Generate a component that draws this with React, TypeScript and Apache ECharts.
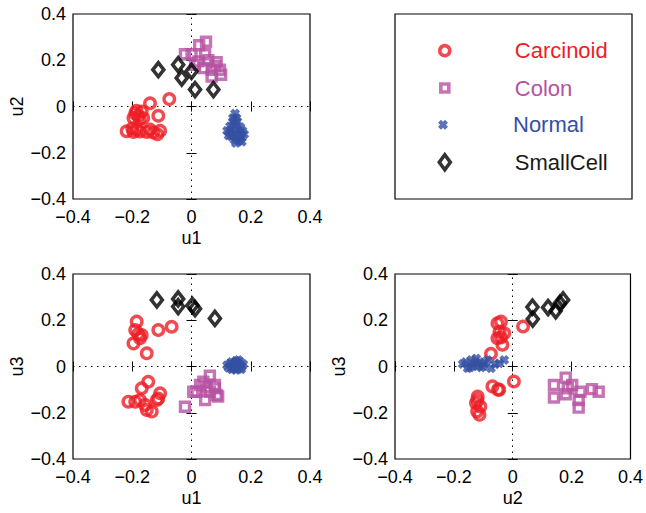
import React, { useEffect, useRef } from "react";
import * as echarts from "echarts";

// ---------- data ----------
const classNames = ["Carcinoid", "Colon", "Normal", "SmallCell"];
const tickValues = [-0.4, -0.2, 0, 0.2, 0.4];
const axisNamesX = ["u1", "u1", "u2"];
const axisNamesY = ["u2", "u3", "u3"];

// panel 1 : u1 (x) vs u2 (y)
const carcinoidU1U2 = [
  [-0.075, 0.032], [-0.14, 0.014], [-0.112, -0.04], [-0.19, -0.03], [-0.168, -0.022],
  [-0.196, -0.05], [-0.163, -0.05], [-0.18, -0.04], [-0.186, -0.018], [-0.175, -0.055],
  [-0.219, -0.107], [-0.196, -0.11], [-0.174, -0.108], [-0.151, -0.11], [-0.129, -0.112],
  [-0.106, -0.105], [-0.185, -0.1], [-0.14, -0.1], [-0.115, -0.12], [-0.2, -0.095],
];
const colonU1U2 = [
  [0.049, 0.28], [0.026, 0.265], [-0.022, 0.226], [0.0, 0.226], [0.046, 0.226],
  [0.023, 0.195], [0.057, 0.2], [0.085, 0.192], [0.096, 0.159], [0.068, 0.159],
  [0.04, 0.166], [0.1, 0.137], [0.068, 0.13], [0.012, 0.18], [0.08, 0.175],
];
const normalU1U2 = [
  [0.147, -0.03], [0.14, -0.05], [0.152, -0.05], [0.14, -0.065], [0.155, -0.065],
  [0.13, -0.085], [0.148, -0.08], [0.165, -0.09], [0.12, -0.105], [0.135, -0.1],
  [0.155, -0.1], [0.172, -0.105], [0.13, -0.115], [0.145, -0.115], [0.165, -0.12],
  [0.178, -0.12], [0.135, -0.13], [0.15, -0.13], [0.168, -0.135], [0.145, -0.145],
  [0.16, -0.148], [0.15, -0.158], [0.17, -0.152], [0.125, -0.125],
];
const smallCellU1U2 = [
  [-0.112, 0.159], [-0.045, 0.181], [-0.033, 0.123], [0.0, 0.152], [0.012, 0.073], [0.074, 0.073],
];

// panel 2 : u1 (x) vs u3 (y)
const carcinoidU1U3 = [
  [-0.185, 0.194], [-0.19, 0.158], [-0.168, 0.136], [-0.196, 0.1], [-0.174, 0.122],
  [-0.151, 0.057], [-0.112, 0.158], [-0.067, 0.172], [-0.146, -0.066], [-0.168, -0.094],
  [-0.213, -0.152], [-0.19, -0.152], [-0.174, -0.145], [-0.157, -0.166], [-0.134, -0.195],
  [-0.151, -0.188], [-0.112, -0.138], [-0.106, -0.116], [-0.117, -0.145], [-0.18, 0.14],
];
const colonU1U3 = [
  [0.062, -0.04], [0.04, -0.066], [0.006, -0.109], [-0.022, -0.174], [0.046, -0.145],
  [0.029, -0.08], [0.079, -0.08], [0.085, -0.123], [0.062, -0.109], [0.017, -0.109],
  [0.079, -0.094], [0.09, -0.13], [0.05, -0.09],
];
const normalU1U3 = [
  [0.12, 0.005], [0.135, 0.02], [0.15, 0.025], [0.165, 0.02], [0.17, 0.0], [0.16, -0.01],
  [0.14, -0.01], [0.125, -0.005], [0.155, 0.01], [0.145, 0.015], [0.175, 0.01], [0.15, -0.015],
  [0.13, 0.012], [0.142, 0.0], [0.16, 0.005], [0.135, -0.012], [0.168, -0.012], [0.158, 0.028],
];
const smallCellU1U3 = [
  [-0.117, 0.288], [-0.045, 0.292], [-0.045, 0.259], [0.003, 0.264], [0.012, 0.25], [0.079, 0.208],
];

// panel 3 : u2 (x) vs u3 (y)
const carcinoidU2U3 = [
  [0.035, 0.173], [-0.052, 0.187], [-0.04, 0.194], [-0.029, 0.144], [-0.052, 0.122],
  [-0.035, 0.094], [-0.074, 0.055], [-0.069, -0.086], [-0.046, -0.1], [0.004, -0.065],
  [-0.119, -0.13], [-0.125, -0.158], [-0.11, -0.173], [-0.113, -0.209], [-0.121, -0.194],
  [-0.045, 0.15], [-0.05, -0.1], [-0.12, -0.145], [-0.04, 0.125],
];
const colonU2U3 = [
  [0.18, -0.048], [0.14, -0.08], [0.14, -0.134], [0.187, -0.094], [0.202, -0.08],
  [0.23, -0.109], [0.224, -0.145], [0.224, -0.178], [0.269, -0.098], [0.292, -0.109],
  [0.18, -0.12],
];
const normalU2U3 = [
  [-0.17, 0.011], [-0.141, 0.028], [-0.124, 0.035], [-0.119, 0.002], [-0.096, 0.014],
  [-0.074, -0.008], [-0.046, 0.014], [-0.029, 0.028], [-0.153, -0.008], [-0.107, -0.004],
  [-0.136, 0.002], [-0.085, 0.028], [-0.16, 0.02], [-0.13, 0.015], [-0.112, 0.02],
  [-0.1, 0.002], [-0.145, -0.004], [-0.06, 0.01],
];
const smallCellU2U3 = [
  [0.067, 0.257], [0.068, 0.205], [0.12, 0.255], [0.146, 0.241], [0.171, 0.288], [0.16, 0.273],
];

const panelData = [
  [carcinoidU1U2, colonU1U2, normalU1U2, smallCellU1U2],
  [carcinoidU1U3, colonU1U3, normalU1U3, smallCellU1U3],
  [carcinoidU2U3, colonU2U3, normalU2U3, smallCellU2U3],
];

// ---------- styles ----------
const FONT = "Liberation Sans, Arial, Helvetica, sans-serif";
const colors = ["#ee1d25", "#b651a2", "#3450a3", "#000000"];
const X_PATH =
  "path://M0,3L3,0L5,2L7,0L10,3L8,5L10,7L7,10L5,8L3,10L0,7L2,5Z";
const symbols = ["circle", "rect", X_PATH, "diamond"];
const symbolSizes: any[] = [10.5, 9, 10, [11, 14]];
const borderWidths = [3.4, 3.4, 0, 3.6];
const grids = [
  { left: 73, top: 14 },
  { left: 73, top: 274 },
  { left: 395, top: 274 },
];
const GW = 237;
const GH = 185;

function fmt(v: number) {
  if (Math.abs(v) < 1e-9) return "0";
  return (v < 0 ? "\u2212" : "") + Math.abs(v).toFixed(1);
}

function itemStyleFor(i: number) {
  if (i === 2) return { color: colors[i], borderWidth: 0 };
  return { color: "transparent", borderColor: colors[i], borderWidth: borderWidths[i] };
}

export default function App() {
  const ref = useRef<HTMLDivElement>(null);
  useEffect(() => {
    if (!ref.current) return;
    const chart = echarts.init(ref.current, null, { renderer: "svg" });

    const xAxis: any[] = [];
    const yAxis: any[] = [];
    const series: any[] = [];
    const tickCommon = {
      show: true,
      inside: true,
      length: 5,
      lineStyle: { color: "#000", width: 1 },
    };
    grids.forEach((g, gi) => {
      const base = {
        type: "value",
        gridIndex: gi,
        min: tickValues[0],
        max: tickValues[tickValues.length - 1],
        interval: 0.2,
        axisLine: { show: false },
        splitLine: { show: false },
        axisTick: tickCommon,
      };
      xAxis.push({
        ...base,
        position: "bottom",
        name: axisNamesX[gi],
        nameLocation: "middle",
        nameGap: 30,
        nameTextStyle: { fontFamily: FONT, fontSize: 18, color: "#000" },
        axisLabel: { formatter: fmt, fontFamily: FONT, fontSize: 18, color: "#000", margin: 9 },
      });
      xAxis.push({ ...base, position: "top", axisLabel: { show: false } });
      yAxis.push({
        ...base,
        position: "left",
        name: axisNamesY[gi],
        nameLocation: "middle",
        nameGap: 47,
        nameTextStyle: { fontFamily: FONT, fontSize: 18, color: "#000" },
        axisLabel: { formatter: fmt, fontFamily: FONT, fontSize: 18, color: "#000", margin: 7 },
      });
      yAxis.push({ ...base, position: "right", axisLabel: { show: false } });

      panelData[gi].forEach((pts, ci) => {
        const s: any = {
          type: "scatter",
          name: classNames[ci],
          xAxisIndex: gi * 2,
          yAxisIndex: gi * 2,
          data: pts,
          symbol: symbols[ci],
          symbolSize: symbolSizes[ci],
          itemStyle: itemStyleFor(ci),
          z: 3 + ci,
        };
        if (ci === 0) {
          s.markLine = {
            silent: true,
            symbol: "none",
            label: { show: false },
            lineStyle: { color: "#000", type: [1.5, 4.5], width: 1 },
            data: [{ xAxis: 0 }, { yAxis: 0 }],
            z: 1,
          };
        }
        series.push(s);
      });
    });

    const legendRows = [51.7, 89, 125.7, 163.3];
    const legendIconSizes = [
      [10, 10],
      [8, 8],
      [10, 10],
      [11, 15],
    ];
    const legend = classNames.map((n, i) => {
      const [w, h] = legendIconSizes[i];
      const left = 443 - w / 2;
      return {
        show: true,
        selectedMode: false,
        orient: "horizontal",
        left,
        top: legendRows[i] - 12,
        itemWidth: w,
        itemHeight: h,
        padding: 0,
        data: [
          {
            name: n,
            icon: symbols[i],
            itemStyle:
              i === 2
                ? { color: colors[i], borderWidth: 0 }
                : { color: "transparent", borderColor: colors[i], borderWidth: 3.6 },
            textStyle: {
              color: colors[i] === "#000000" ? "#1a1a1a" : colors[i],
              fontFamily: FONT,
              fontSize: 22,
              padding: [0, 0, 0, 513 - (left + w + 5)],
            },
          },
        ],
      };
    });

    chart.setOption({
      animation: false,
      backgroundColor: "#fff",
      grid: grids.map((g) => ({
        left: g.left,
        top: g.top,
        width: GW,
        height: GH,
        show: true,
        borderColor: "#000",
        borderWidth: 1.2,
        backgroundColor: "transparent",
      })),
      xAxis,
      yAxis,
      series,
      legend,
      graphic: [
        {
          type: "rect",
          shape: { x: 395, y: 14, width: GW, height: GH },
          style: { fill: "transparent", stroke: "#000", lineWidth: 1.2 },
          z: 0,
        },
      ],
    });
    return () => chart.dispose();
  }, []);
  return (
    <div
      ref={ref}
      style={{ position: "fixed", left: 0, top: 0, width: 646, height: 513 }}
    />
  );
}
